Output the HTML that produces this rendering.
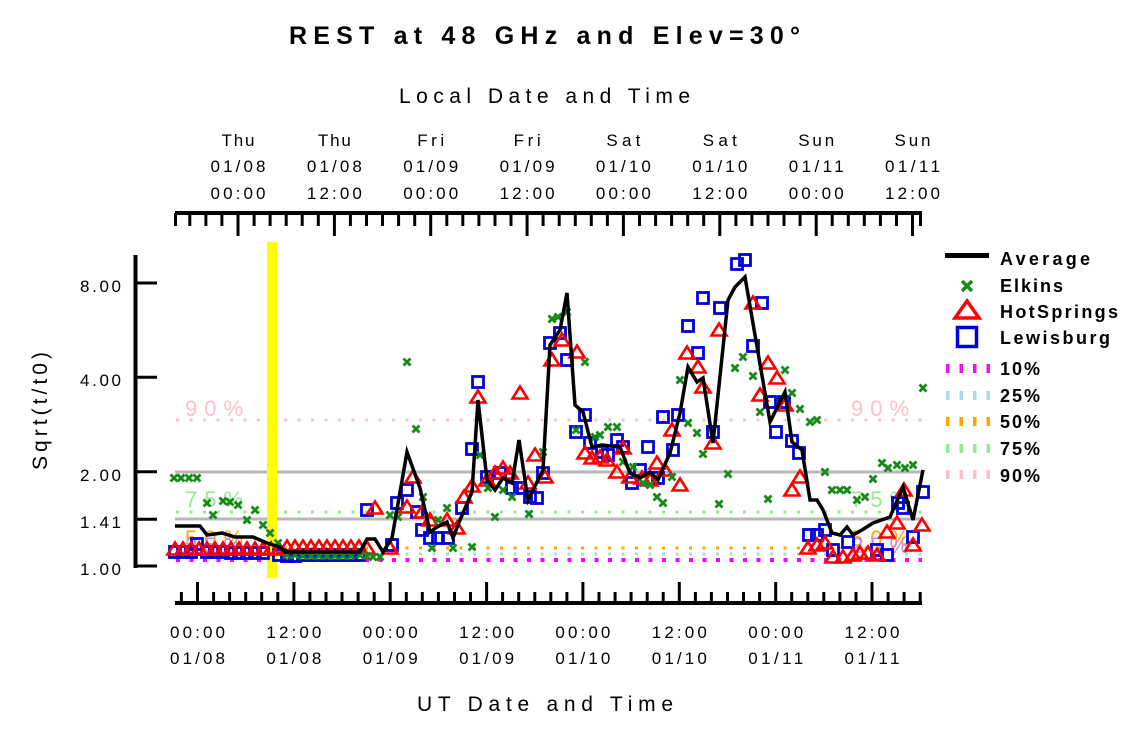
<!DOCTYPE html>
<html><head><meta charset="utf-8"><style>
html,body{margin:0;padding:0;background:#fff;}
svg{display:block;}
text{font-family:"Liberation Sans",Arial,sans-serif;}
</style></head><body>
<svg width="1125" height="731" viewBox="0 0 1125 731" xmlns="http://www.w3.org/2000/svg">
<defs>
<path id="t" d="M0,-6.5L7.5,5.5L-7.5,5.5Z" fill="none" stroke="#ff0000" stroke-width="2.6"/>
<rect id="s" x="-5.5" y="-5.5" width="11" height="11" fill="none" stroke="#0000dd" stroke-width="2.8"/>
<path id="x" d="M-3.5,-3.5L3.5,3.5M3.5,-3.5L-3.5,3.5" stroke="#168a16" stroke-width="2.8"/>
</defs>
<rect width="1125" height="731" fill="#fff"/>

<!-- Titles -->
<text x="544.5" y="44" text-anchor="middle" font-size="25" font-weight="bold" textLength="511" lengthAdjust="spacing">REST at 48 GHz and Elev=30°</text>
<text x="544.5" y="103" text-anchor="middle" font-size="21" textLength="291" lengthAdjust="spacing">Local Date and Time</text>
<text x="545" y="711" text-anchor="middle" font-size="21" textLength="256" lengthAdjust="spacing">UT Date and Time</text>
<text transform="translate(47,411) rotate(-90)" text-anchor="middle" font-size="21" textLength="118" lengthAdjust="spacing">Sqrt(t/t0)</text>

<!-- Top axis -->
<line x1="175" y1="213" x2="922" y2="213" stroke="#000" stroke-width="4"/>
<path stroke="#000" stroke-width="3" fill="none" d="M175.5,213V226M189.8,213V226M205.9,213V226M221.9,213V226M254.1,213V226M270.1,213V226M286.2,213V226M302.2,213V226M318.3,213V226M350.4,213V226M366.5,213V226M382.5,213V226M398.6,213V226M414.7,213V226M446.8,213V226M462.8,213V226M478.9,213V226M495,213V226M511,213V226M543.1,213V226M559.2,213V226M575.3,213V226M591.3,213V226M607.4,213V226M639.5,213V226M655.6,213V226M671.6,213V226M687.7,213V226M703.7,213V226M735.9,213V226M751.9,213V226M768,213V226M784,213V226M800.1,213V226M832.2,213V226M848.3,213V226M864.3,213V226M880.4,213V226M896.5,213V226M920.5,213V226"/>
<path stroke="#000" stroke-width="3" fill="none" d="M238,213V236M334.4,213V236M430.7,213V236M527.1,213V236M623.4,213V236M719.8,213V236M816.2,213V236M912.5,213V236"/>
<g font-size="17" text-anchor="middle">
<text x="238" y="146" textLength="33" lengthAdjust="spacing">Thu</text>
<text x="334.4" y="146" textLength="33" lengthAdjust="spacing">Thu</text>
<text x="430.7" y="146" textLength="27" lengthAdjust="spacing">Fri</text>
<text x="527.1" y="146" textLength="27" lengthAdjust="spacing">Fri</text>
<text x="623.4" y="146" textLength="34" lengthAdjust="spacing">Sat</text>
<text x="719.8" y="146" textLength="34" lengthAdjust="spacing">Sat</text>
<text x="816.2" y="146" textLength="36" lengthAdjust="spacing">Sun</text>
<text x="912.5" y="146" textLength="36" lengthAdjust="spacing">Sun</text>
<text x="238" y="172" textLength="55" lengthAdjust="spacing">01/08</text>
<text x="334.4" y="172" textLength="55" lengthAdjust="spacing">01/08</text>
<text x="430.7" y="172" textLength="55" lengthAdjust="spacing">01/09</text>
<text x="527.1" y="172" textLength="55" lengthAdjust="spacing">01/09</text>
<text x="623.4" y="172" textLength="55" lengthAdjust="spacing">01/10</text>
<text x="719.8" y="172" textLength="55" lengthAdjust="spacing">01/10</text>
<text x="816.2" y="172" textLength="55" lengthAdjust="spacing">01/11</text>
<text x="912.5" y="172" textLength="55" lengthAdjust="spacing">01/11</text>
<text x="238" y="199" textLength="55" lengthAdjust="spacing">00:00</text>
<text x="334.4" y="199" textLength="55" lengthAdjust="spacing">12:00</text>
<text x="430.7" y="199" textLength="55" lengthAdjust="spacing">00:00</text>
<text x="527.1" y="199" textLength="55" lengthAdjust="spacing">12:00</text>
<text x="623.4" y="199" textLength="55" lengthAdjust="spacing">00:00</text>
<text x="719.8" y="199" textLength="55" lengthAdjust="spacing">12:00</text>
<text x="816.2" y="199" textLength="55" lengthAdjust="spacing">00:00</text>
<text x="912.5" y="199" textLength="55" lengthAdjust="spacing">12:00</text>
</g>

<!-- Bottom axis -->
<line x1="175" y1="603" x2="922" y2="603" stroke="#000" stroke-width="4"/>
<path stroke="#000" stroke-width="3" fill="none" d="M181.4,603V592M213.6,603V592M229.6,603V592M245.7,603V592M261.7,603V592M277.8,603V592M309.9,603V592M326,603V592M342,603V592M358.1,603V592M374.2,603V592M406.3,603V592M422.3,603V592M438.4,603V592M454.5,603V592M470.5,603V592M502.6,603V592M518.7,603V592M534.8,603V592M550.8,603V592M566.9,603V592M599,603V592M615.1,603V592M631.1,603V592M647.2,603V592M663.2,603V592M695.4,603V592M711.4,603V592M727.5,603V592M743.5,603V592M759.6,603V592M791.7,603V592M807.8,603V592M823.8,603V592M839.9,603V592M856,603V592M888.1,603V592M904.1,603V592M920.2,603V592"/>
<path stroke="#000" stroke-width="3" fill="none" d="M197.5,603V582M293.9,603V582M390.2,603V582M486.6,603V582M582.9,603V582M679.3,603V582M775.7,603V582M872,603V582"/>
<g font-size="17" text-anchor="middle">
<text x="197.5" y="638" textLength="55" lengthAdjust="spacing">00:00</text>
<text x="293.9" y="638" textLength="55" lengthAdjust="spacing">12:00</text>
<text x="390.2" y="638" textLength="55" lengthAdjust="spacing">00:00</text>
<text x="486.6" y="638" textLength="55" lengthAdjust="spacing">12:00</text>
<text x="582.9" y="638" textLength="55" lengthAdjust="spacing">00:00</text>
<text x="679.3" y="638" textLength="55" lengthAdjust="spacing">12:00</text>
<text x="775.7" y="638" textLength="55" lengthAdjust="spacing">00:00</text>
<text x="872" y="638" textLength="55" lengthAdjust="spacing">12:00</text>
<text x="197.5" y="664" textLength="55" lengthAdjust="spacing">01/08</text>
<text x="293.9" y="664" textLength="55" lengthAdjust="spacing">01/08</text>
<text x="390.2" y="664" textLength="55" lengthAdjust="spacing">01/09</text>
<text x="486.6" y="664" textLength="55" lengthAdjust="spacing">01/09</text>
<text x="582.9" y="664" textLength="55" lengthAdjust="spacing">01/10</text>
<text x="679.3" y="664" textLength="55" lengthAdjust="spacing">01/10</text>
<text x="775.7" y="664" textLength="55" lengthAdjust="spacing">01/11</text>
<text x="872" y="664" textLength="55" lengthAdjust="spacing">01/11</text>
</g>

<!-- Y axis -->
<line x1="135.5" y1="255" x2="135.5" y2="568" stroke="#000" stroke-width="4"/>
<path stroke="#000" stroke-width="3" fill="none" d="M136,283H157M136,377.3H157M136,471.7H157M136,519.2H157M136,566H157"/>
<g font-size="17" text-anchor="end">
<text x="121" y="292" textLength="41" lengthAdjust="spacing">8.00</text>
<text x="121" y="386" textLength="41" lengthAdjust="spacing">4.00</text>
<text x="121" y="481" textLength="41" lengthAdjust="spacing">2.00</text>
<text x="121" y="528" textLength="41" lengthAdjust="spacing">1.41</text>
<text x="121" y="575" textLength="41" lengthAdjust="spacing">1.00</text>
</g>

<!-- Grid lines -->
<line x1="175" y1="472" x2="922" y2="472" stroke="#b8b8b8" stroke-width="3"/>
<line x1="175" y1="519" x2="922" y2="519" stroke="#b8b8b8" stroke-width="3"/>

<!-- Percentile dotted lines -->
<line x1="176" y1="420" x2="922" y2="420" stroke="#ffc0cb" stroke-width="3" stroke-dasharray="3 10.5"/>
<line x1="176" y1="512" x2="922" y2="512" stroke="#90ee90" stroke-width="3" stroke-dasharray="3 10.5"/>
<line x1="176" y1="548" x2="922" y2="548" stroke="#ffa500" stroke-width="3" stroke-dasharray="3 10.5"/>
<line x1="176" y1="554" x2="922" y2="554" stroke="#add8e6" stroke-width="3" stroke-dasharray="3 10.5"/>
<line x1="176" y1="560" x2="922" y2="560" stroke="#ff00ff" stroke-width="4" stroke-dasharray="4 9.5"/>

<!-- Percentile labels -->
<g font-size="22">
<text x="185" y="416" fill="#ffc0cb" textLength="58" lengthAdjust="spacing">90%</text>
<text x="851" y="416" fill="#ffc0cb" textLength="58" lengthAdjust="spacing">90%</text>
<text x="185" y="507" fill="#90ee90" textLength="58" lengthAdjust="spacing">75%</text>
<text x="851" y="507" fill="#90ee90" textLength="58" lengthAdjust="spacing">75%</text>
<text x="185" y="546" fill="#ffa500" textLength="58" lengthAdjust="spacing">50%</text>
<text x="851" y="546" fill="#ffa500" textLength="58" lengthAdjust="spacing">50%</text>
<text x="185" y="553" fill="#c98aee" textLength="58" lengthAdjust="spacing">25%</text>
<text x="851" y="553" fill="#c98aee" textLength="58" lengthAdjust="spacing">25%</text>
</g>

<!-- Yellow bar -->
<rect x="267" y="242" width="10" height="336" fill="#ffff00"/>

<!-- Lewisburg squares -->
<g>
<use href="#s" x="175" y="552"/><use href="#s" x="183" y="552"/><use href="#s" x="191" y="552"/><use href="#s" x="197" y="544"/><use href="#s" x="207" y="552"/><use href="#s" x="215" y="552"/><use href="#s" x="223" y="552"/><use href="#s" x="231" y="553"/><use href="#s" x="239" y="553"/><use href="#s" x="247" y="553"/><use href="#s" x="255" y="553"/><use href="#s" x="263" y="553"/><use href="#s" x="279" y="555"/><use href="#s" x="287" y="556"/><use href="#s" x="295" y="556"/><use href="#s" x="303" y="555"/><use href="#s" x="311" y="555"/><use href="#s" x="319" y="555"/><use href="#s" x="327" y="555"/><use href="#s" x="335" y="555"/><use href="#s" x="343" y="555"/><use href="#s" x="351" y="555"/><use href="#s" x="359" y="555"/><use href="#s" x="367" y="510"/><use href="#s" x="392" y="545"/>
<use href="#s" x="397" y="503"/><use href="#s" x="407" y="490"/><use href="#s" x="417" y="512"/><use href="#s" x="422" y="530"/><use href="#s" x="430" y="538"/><use href="#s" x="438" y="538"/><use href="#s" x="448" y="538"/><use href="#s" x="462" y="508"/><use href="#s" x="472" y="449"/><use href="#s" x="478" y="382"/><use href="#s" x="487" y="477"/><use href="#s" x="500" y="473"/><use href="#s" x="512" y="488"/><use href="#s" x="520" y="488"/><use href="#s" x="530" y="497"/><use href="#s" x="537" y="498"/><use href="#s" x="543" y="473"/><use href="#s" x="550" y="343"/><use href="#s" x="560" y="333"/><use href="#s" x="567" y="360"/><use href="#s" x="576" y="432"/><use href="#s" x="585" y="415"/><use href="#s" x="590" y="443"/><use href="#s" x="602" y="452"/><use href="#s" x="608" y="455"/><use href="#s" x="617" y="440"/><use href="#s" x="623" y="447"/><use href="#s" x="632" y="483"/><use href="#s" x="640" y="470"/><use href="#s" x="648" y="447"/><use href="#s" x="658" y="478"/><use href="#s" x="663" y="417"/><use href="#s" x="673" y="450"/><use href="#s" x="678" y="415"/><use href="#s" x="688" y="326"/><use href="#s" x="698" y="353"/><use href="#s" x="703" y="298"/><use href="#s" x="713" y="432"/><use href="#s" x="720" y="308"/><use href="#s" x="737" y="264"/><use href="#s" x="745" y="260"/><use href="#s" x="753" y="346"/><use href="#s" x="762" y="303"/><use href="#s" x="770" y="402"/><use href="#s" x="776" y="432"/><use href="#s" x="784" y="402"/><use href="#s" x="792" y="441"/><use href="#s" x="799" y="453"/><use href="#s" x="809" y="535"/><use href="#s" x="817" y="535"/><use href="#s" x="825" y="530"/><use href="#s" x="833" y="550"/><use href="#s" x="848" y="542"/><use href="#s" x="877" y="550"/><use href="#s" x="887" y="555"/><use href="#s" x="898" y="503"/><use href="#s" x="903" y="508"/><use href="#s" x="913" y="537"/><use href="#s" x="923" y="492"/>
</g>

<!-- HotSprings triangles -->
<g>
<use href="#t" x="175" y="549"/><use href="#t" x="183" y="549"/><use href="#t" x="191" y="549"/><use href="#t" x="199" y="549"/><use href="#t" x="207" y="549"/><use href="#t" x="215" y="549"/><use href="#t" x="223" y="549"/><use href="#t" x="231" y="549"/><use href="#t" x="239" y="549"/><use href="#t" x="247" y="549"/><use href="#t" x="255" y="549"/><use href="#t" x="263" y="549"/><use href="#t" x="271" y="549"/><use href="#t" x="279" y="549"/><use href="#t" x="287" y="547"/><use href="#t" x="295" y="547"/><use href="#t" x="303" y="547"/><use href="#t" x="311" y="547"/><use href="#t" x="319" y="547"/><use href="#t" x="327" y="547"/><use href="#t" x="335" y="547"/><use href="#t" x="343" y="547"/><use href="#t" x="351" y="547"/><use href="#t" x="359" y="547"/><use href="#t" x="367" y="548"/><use href="#t" x="375" y="508"/><use href="#t" x="390" y="548"/>
<use href="#t" x="407" y="507"/><use href="#t" x="413" y="477"/><use href="#t" x="422" y="512"/><use href="#t" x="430" y="520"/><use href="#t" x="447" y="520"/><use href="#t" x="457" y="528"/><use href="#t" x="464" y="497"/><use href="#t" x="472" y="486"/><use href="#t" x="478" y="397"/><use href="#t" x="487" y="480"/><use href="#t" x="495" y="473"/><use href="#t" x="503" y="468"/><use href="#t" x="510" y="473"/><use href="#t" x="520" y="393"/><use href="#t" x="528" y="483"/><use href="#t" x="535" y="455"/><use href="#t" x="545" y="477"/><use href="#t" x="552" y="360"/><use href="#t" x="562" y="340"/><use href="#t" x="577" y="352"/><use href="#t" x="585" y="453"/><use href="#t" x="592" y="458"/><use href="#t" x="600" y="457"/><use href="#t" x="607" y="460"/><use href="#t" x="617" y="472"/><use href="#t" x="623" y="448"/><use href="#t" x="630" y="477"/><use href="#t" x="642" y="478"/><use href="#t" x="650" y="480"/><use href="#t" x="657" y="463"/><use href="#t" x="665" y="470"/><use href="#t" x="672" y="430"/><use href="#t" x="680" y="485"/><use href="#t" x="687" y="353"/><use href="#t" x="698" y="367"/><use href="#t" x="703" y="387"/><use href="#t" x="713" y="443"/><use href="#t" x="719" y="330"/><use href="#t" x="753" y="303"/><use href="#t" x="760" y="395"/><use href="#t" x="768" y="363"/><use href="#t" x="777" y="378"/><use href="#t" x="785" y="405"/><use href="#t" x="792" y="490"/><use href="#t" x="800" y="477"/><use href="#t" x="808" y="548"/><use href="#t" x="817" y="545"/><use href="#t" x="825" y="543"/><use href="#t" x="833" y="557"/><use href="#t" x="843" y="557"/><use href="#t" x="853" y="555"/><use href="#t" x="860" y="553"/><use href="#t" x="868" y="553"/><use href="#t" x="877" y="555"/><use href="#t" x="887" y="532"/><use href="#t" x="897" y="523"/><use href="#t" x="904" y="490"/><use href="#t" x="913" y="545"/><use href="#t" x="922" y="525"/>
</g>

<!-- Elkins x -->
<g>
<use href="#x" x="174" y="478"/><use href="#x" x="181" y="478"/><use href="#x" x="189" y="478"/><use href="#x" x="197" y="478"/><use href="#x" x="207" y="503"/><use href="#x" x="213" y="515"/><use href="#x" x="223" y="501"/><use href="#x" x="230" y="502"/><use href="#x" x="238" y="505"/><use href="#x" x="247" y="520"/><use href="#x" x="255" y="510"/><use href="#x" x="263" y="525"/><use href="#x" x="270" y="533"/><use href="#x" x="278" y="543"/><use href="#x" x="287" y="555"/><use href="#x" x="295" y="555"/><use href="#x" x="303" y="556"/><use href="#x" x="311" y="556"/><use href="#x" x="319" y="556"/><use href="#x" x="327" y="556"/><use href="#x" x="335" y="556"/><use href="#x" x="343" y="556"/><use href="#x" x="351" y="556"/><use href="#x" x="360" y="555"/><use href="#x" x="367" y="556"/><use href="#x" x="373" y="557"/><use href="#x" x="380" y="557"/>
<use href="#x" x="390" y="515"/><use href="#x" x="398" y="517"/><use href="#x" x="407" y="362"/><use href="#x" x="416" y="429"/><use href="#x" x="423" y="497"/><use href="#x" x="432" y="548"/><use href="#x" x="438" y="520"/><use href="#x" x="447" y="508"/><use href="#x" x="453" y="548"/><use href="#x" x="472" y="547"/><use href="#x" x="480" y="455"/><use href="#x" x="488" y="488"/><use href="#x" x="495" y="517"/><use href="#x" x="503" y="490"/><use href="#x" x="512" y="497"/><use href="#x" x="529" y="514"/><use href="#x" x="543" y="452"/><use href="#x" x="552" y="319"/><use href="#x" x="558" y="317"/><use href="#x" x="567" y="312"/><use href="#x" x="576" y="430"/><use href="#x" x="585" y="362"/><use href="#x" x="595" y="437"/><use href="#x" x="600" y="435"/><use href="#x" x="608" y="427"/><use href="#x" x="617" y="427"/><use href="#x" x="623" y="462"/><use href="#x" x="633" y="467"/><use href="#x" x="643" y="483"/><use href="#x" x="650" y="485"/><use href="#x" x="657" y="497"/><use href="#x" x="663" y="503"/><use href="#x" x="672" y="477"/><use href="#x" x="680" y="380"/><use href="#x" x="688" y="423"/><use href="#x" x="697" y="433"/><use href="#x" x="703" y="454"/><use href="#x" x="719" y="504"/><use href="#x" x="728" y="474"/><use href="#x" x="735" y="368"/><use href="#x" x="743" y="357"/><use href="#x" x="753" y="376"/><use href="#x" x="760" y="412"/><use href="#x" x="768" y="499"/><use href="#x" x="785" y="370"/><use href="#x" x="792" y="393"/><use href="#x" x="800" y="409"/><use href="#x" x="810" y="422"/><use href="#x" x="817" y="420"/><use href="#x" x="825" y="472"/><use href="#x" x="832" y="490"/><use href="#x" x="840" y="490"/><use href="#x" x="847" y="490"/><use href="#x" x="857" y="500"/><use href="#x" x="865" y="497"/><use href="#x" x="873" y="479"/><use href="#x" x="882" y="463"/><use href="#x" x="888" y="468"/><use href="#x" x="897" y="465"/><use href="#x" x="905" y="468"/><use href="#x" x="913" y="465"/><use href="#x" x="923" y="388"/>
</g>

<!-- Average line -->
<polyline fill="none" stroke="#000" stroke-width="3.5" stroke-linejoin="miter" points="175,526 200,526 207,535 222,533 235,537 253,537 267,543 280,547 285,552 360,552 367,539 375,539 383,552 392,538 407,452 420,488 430,532 437,527 447,522 453,538 460,520 472,492 478,400 487,480 495,490 503,478 512,483 519,440 528,500 543,470 550,345 560,330 567,293 575,405 583,412 592,447 602,445 620,447 630,473 640,478 650,472 658,480 670,453 680,413 688,367 697,382 703,378 713,443 728,300 735,287 745,277 770,422 785,392 792,442 802,450 810,500 817,500 823,510 832,533 840,535 847,527 853,535 862,530 873,523 890,517 903,487 913,520 923,470"/>

<!-- Legend -->
<line x1="945" y1="255.5" x2="989" y2="255.5" stroke="#000" stroke-width="5"/>
<path d="M962,281L972,291M972,281L962,291" stroke="#168a16" stroke-width="3.5"/>
<path d="M967,301L979,318L955,318Z" fill="none" stroke="#ff0000" stroke-width="3.5"/>
<rect x="957.5" y="327.5" width="19" height="19" fill="none" stroke="#0000dd" stroke-width="3.5"/>
<line x1="946" y1="368.5" x2="990" y2="368.5" stroke="#ee10ee" stroke-width="9" stroke-dasharray="3.5 10"/>
<line x1="946" y1="395.5" x2="990" y2="395.5" stroke="#add8e6" stroke-width="9" stroke-dasharray="3.5 10"/>
<line x1="946" y1="421.5" x2="990" y2="421.5" stroke="#ffa500" stroke-width="9" stroke-dasharray="3.5 10"/>
<line x1="946" y1="448.5" x2="990" y2="448.5" stroke="#90ee90" stroke-width="9" stroke-dasharray="3.5 10"/>
<line x1="946" y1="474.5" x2="990" y2="474.5" stroke="#ffc0cb" stroke-width="9" stroke-dasharray="3.5 10"/>
<g font-size="18" font-weight="bold">
<text x="1000" y="265" textLength="90" lengthAdjust="spacing">Average</text>
<text x="1000" y="292" textLength="63" lengthAdjust="spacing">Elkins</text>
<text x="1000" y="318" textLength="118" lengthAdjust="spacing">HotSprings</text>
<text x="1000" y="344" textLength="110" lengthAdjust="spacing">Lewisburg</text>
<text x="1000" y="375" textLength="40" lengthAdjust="spacing">10%</text>
<text x="1000" y="402" textLength="40" lengthAdjust="spacing">25%</text>
<text x="1000" y="428" textLength="40" lengthAdjust="spacing">50%</text>
<text x="1000" y="455" textLength="40" lengthAdjust="spacing">75%</text>
<text x="1000" y="482" textLength="40" lengthAdjust="spacing">90%</text>
</g>
</svg>
</body></html>
